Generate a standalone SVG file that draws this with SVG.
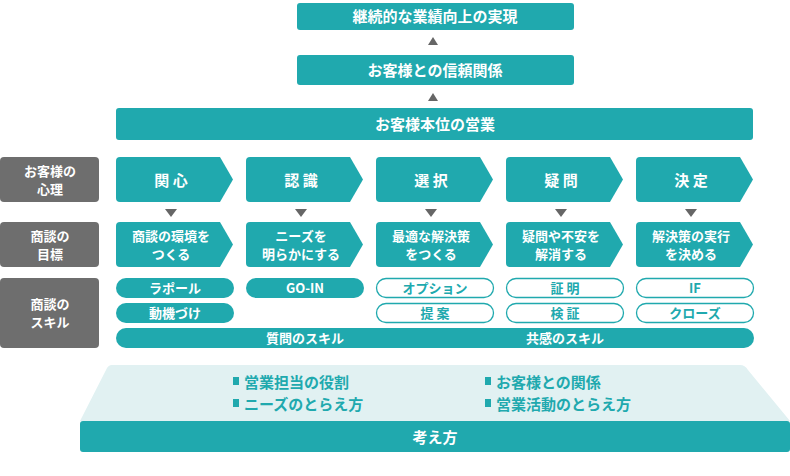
<svg xmlns="http://www.w3.org/2000/svg" width="790" height="476" viewBox="0 0 790 476">
<style>
text{font-family:"Noto Sans CJK JP","Noto Sans",sans-serif;font-weight:bold;text-anchor:middle}
.t{fill:#20a9ae}.g{fill:#6e6e6e}.w{fill:#fff}
.o{fill:#fff;stroke:#20a9ae;stroke-width:1.3}
.tri{fill:#666}
</style>
<defs>
<path id="chev" d="M4,0H104L117,22.5L104,45H4A4,4 0 0 1 0,41V4A4,4 0 0 1 4,0Z"/>
</defs>
<g id="top">
<rect class="t" x="297" y="3" width="277" height="27" rx="3"/>
<text class="w" x="435" y="22" font-size="15">継続的な業績向上の実現</text>
<rect class="t" x="297" y="55" width="277" height="30" rx="3"/>
<text class="w" x="435" y="76" font-size="15">お客様との信頼関係</text>
<rect class="t" x="116" y="108" width="637" height="32" rx="3"/>
<text class="w" x="435" y="130" font-size="15">お客様本位の営業</text>
</g>
<g id="connectors">
<path class="tri" d="M428,45L438,45L433,37Z"/>
<path class="tri" d="M428,101L438,101L433,93Z"/>
<path class="tri" d="M165,209L177,209L171,217Z"/>
<path class="tri" d="M295,209L307,209L301,217Z"/>
<path class="tri" d="M425,209L437,209L431,217Z"/>
<path class="tri" d="M555,209L567,209L561,217Z"/>
<path class="tri" d="M685,209L697,209L691,217Z"/>
</g>
<g id="labels">
<rect class="g" x="0" y="157" width="99" height="45" rx="4"/>
<text class="w" font-size="13"><tspan x="50" y="176">お客様の</tspan><tspan x="50" y="194">心理</tspan></text>
<rect class="g" x="0" y="222" width="99" height="45" rx="4"/>
<text class="w" font-size="13"><tspan x="50" y="241">商談の</tspan><tspan x="50" y="259">目標</tspan></text>
<rect class="g" x="0" y="278" width="99" height="70" rx="4"/>
<text class="w" font-size="13"><tspan x="50" y="309">商談の</tspan><tspan x="50" y="327">スキル</tspan></text>
</g>
<g id="row1">
<use href="#chev" class="t" x="116" y="157"/><text class="w" x="171" y="186" font-size="15">関 心</text>
<use href="#chev" class="t" x="246" y="157"/><text class="w" x="301" y="186" font-size="15">認 識</text>
<use href="#chev" class="t" x="376" y="157"/><text class="w" x="431" y="186" font-size="15">選 択</text>
<use href="#chev" class="t" x="506" y="157"/><text class="w" x="561" y="186" font-size="15">疑 問</text>
<use href="#chev" class="t" x="636" y="157"/><text class="w" x="691" y="186" font-size="15">決 定</text>
</g>
<g id="row2" font-size="13">
<use href="#chev" class="t" x="116" y="222"/><text class="w" font-size="13"><tspan x="171" y="241">商談の環境を</tspan><tspan x="171" y="259">つくる</tspan></text>
<use href="#chev" class="t" x="246" y="222"/><text class="w" font-size="13"><tspan x="301" y="241">ニーズを</tspan><tspan x="301" y="259">明らかにする</tspan></text>
<use href="#chev" class="t" x="376" y="222"/><text class="w" font-size="13"><tspan x="431" y="241">最適な解決策</tspan><tspan x="431" y="259">をつくる</tspan></text>
<use href="#chev" class="t" x="506" y="222"/><text class="w" font-size="13"><tspan x="561" y="241">疑問や不安を</tspan><tspan x="561" y="259">解消する</tspan></text>
<use href="#chev" class="t" x="636" y="222"/><text class="w" font-size="13"><tspan x="691" y="241">解決策の実行</tspan><tspan x="691" y="259">を決める</tspan></text>
</g>
<g id="skills" font-size="13">
<rect class="t" x="116" y="278" width="118" height="20" rx="10"/><text class="w" x="175" y="293" font-size="13">ラポール</text>
<rect class="t" x="116" y="303" width="118" height="20" rx="10"/><text class="w" x="175" y="318" font-size="13">動機づけ</text>
<rect class="t" x="246" y="278" width="118" height="20" rx="10"/><text class="w" x="305" y="293" font-size="13">GO-IN</text>
<rect class="o" x="376.5" y="278.5" width="117" height="19" rx="9.5"/><text class="t" x="435" y="293" font-size="13">オプション</text>
<rect class="o" x="376.5" y="303.5" width="117" height="19" rx="9.5"/><text class="t" x="435" y="318" font-size="13">提 案</text>
<rect class="o" x="506.5" y="278.5" width="117" height="19" rx="9.5"/><text class="t" x="565" y="293" font-size="13">証 明</text>
<rect class="o" x="506.5" y="303.5" width="117" height="19" rx="9.5"/><text class="t" x="565" y="318" font-size="13">検 証</text>
<rect class="o" x="636.5" y="278.5" width="117" height="19" rx="9.5"/><text class="t" x="695" y="293" font-size="13">IF</text>
<rect class="o" x="636.5" y="303.5" width="117" height="19" rx="9.5"/><text class="t" x="695" y="318" font-size="13">クローズ</text>
<rect class="t" x="116" y="328" width="638" height="20" rx="10"/>
<text class="w" x="305" y="343" font-size="13">質問のスキル</text>
<text class="w" x="565" y="343" font-size="13">共感のスキル</text>
</g>
<g id="base">
<path d="M112,365H740Q745,365 748,370L790,421H80L106,370Q108,365 112,365Z" fill="#e1f1f2"/>
<rect class="t" x="80" y="421" width="710" height="31" rx="3"/>
<text class="w" x="435" y="443" font-size="15">考え方</text>
<g font-size="15" style="text-anchor:start">
<rect class="t" x="233" y="377" width="6" height="8"/><text class="t" x="244" y="388" style="text-anchor:start">営業担当の役割</text>
<rect class="t" x="233" y="399" width="6" height="8"/><text class="t" x="244" y="410" style="text-anchor:start">ニーズのとらえ方</text>
<rect class="t" x="485" y="377" width="6" height="8"/><text class="t" x="496" y="388" style="text-anchor:start">お客様との関係</text>
<rect class="t" x="485" y="399" width="6" height="8"/><text class="t" x="496" y="410" style="text-anchor:start">営業活動のとらえ方</text>
</g>
</g>
</svg>
